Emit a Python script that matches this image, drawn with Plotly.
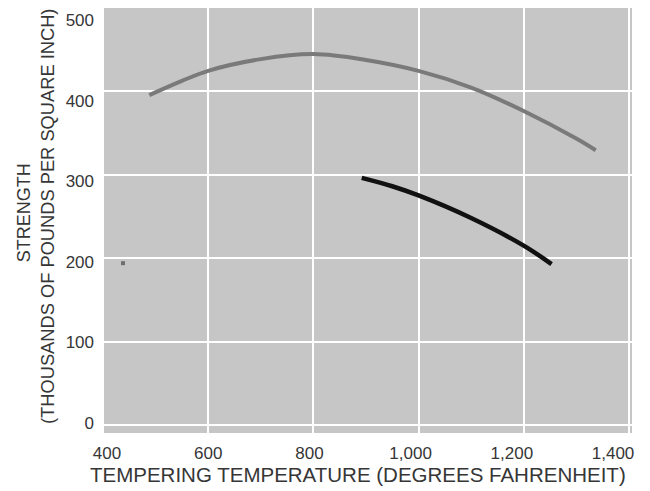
import plotly.graph_objects as go

# upper (gray) curve
gray_temp = [488, 550, 600, 700, 800, 900, 1000, 1100, 1200, 1300, 1337]
gray_strength = [395, 412, 424, 438, 444, 437, 424, 404, 376, 343, 329]

# lower (black) curve
black_temp = [892, 950, 1000, 1100, 1200, 1253]
black_strength = [296, 286, 275, 248, 215, 193]

# stray mark on the left
dot_temp = [438]
dot_strength = [194]

x_ticks = [400, 600, 800, 1000, 1200, 1400]
x_labels = ["400", "600", "800", "1,000", "1,200", "1,400"]
y_ticks = [0, 100, 200, 300, 400, 500]

FONT = "Liberation Sans"
TXT = "#363636"

fig = go.Figure()
fig.add_trace(go.Scatter(
    x=gray_temp, y=gray_strength, mode="lines",
    line=dict(color="#7a7a7a", width=4, shape="spline"),
))
fig.add_trace(go.Scatter(
    x=black_temp, y=black_strength, mode="lines",
    line=dict(color="#111111", width=4.5, shape="spline"),
))
fig.add_trace(go.Scatter(
    x=dot_temp, y=dot_strength, mode="markers",
    marker=dict(color="#6e6e6e", size=4, symbol="square"),
))
# empty trace so the label axes get drawn
fig.add_trace(go.Scatter(x=[], y=[], xaxis="x2", yaxis="y2", hoverinfo="skip"))

grid = dict(showgrid=True, gridcolor="white", gridwidth=2, zeroline=False,
            showline=False, ticks="", showticklabels=False, automargin=False)
# the printed labels sit on a slightly tighter scale than the grid
labels = dict(showgrid=False, zeroline=False, showline=False, ticks="",
              automargin=False, tickfont=dict(size=17, color=TXT),
              ticklabeloverflow="allow")

fig.update_layout(
    width=650, height=491,
    margin=dict(l=102, r=18, t=6, b=58),
    paper_bgcolor="white",
    plot_bgcolor="#c6c6c6",
    showlegend=False,
    font=dict(family=FONT, size=17, color=TXT),
    xaxis=dict(range=[398, 1406], tickvals=x_ticks, **grid),
    yaxis=dict(range=[-9, 501.5], tickvals=y_ticks, **grid),
    xaxis2=dict(range=[390, 1437.5], tickvals=x_ticks, ticktext=x_labels,
                overlaying="x", anchor="y", side="bottom", ticklabelstandoff=8,
                **labels),
    yaxis2=dict(range=[-13, 518], tickvals=y_ticks,
                overlaying="y", anchor="x", side="left", ticklabelstandoff=7,
                **labels),
    annotations=[
        dict(text="TEMPERING TEMPERATURE (DEGREES FAHRENHEIT)",
             xref="paper", yref="paper", x=0.483, y=-0.098,
             xanchor="center", yanchor="middle", showarrow=False,
             font=dict(size=20.5, color=TXT)),
        dict(text="STRENGTH", textangle=-90, xref="paper", yref="paper",
             x=-0.147, y=0.515, xanchor="center", yanchor="middle",
             showarrow=False, font=dict(size=18, color=TXT)),
        dict(text="(THOUSANDS OF POUNDS PER SQUARE INCH)", textangle=-90,
             xref="paper", yref="paper", x=-0.104, y=0.508,
             xanchor="center", yanchor="middle", showarrow=False,
             font=dict(size=18.3, color=TXT)),
    ],
)

# drop the browser's default 8px body margin so the figure fills the window
fig.write_html("out.html", config={"displayModeBar": False},
               post_script="document.body.style.margin='0';")
